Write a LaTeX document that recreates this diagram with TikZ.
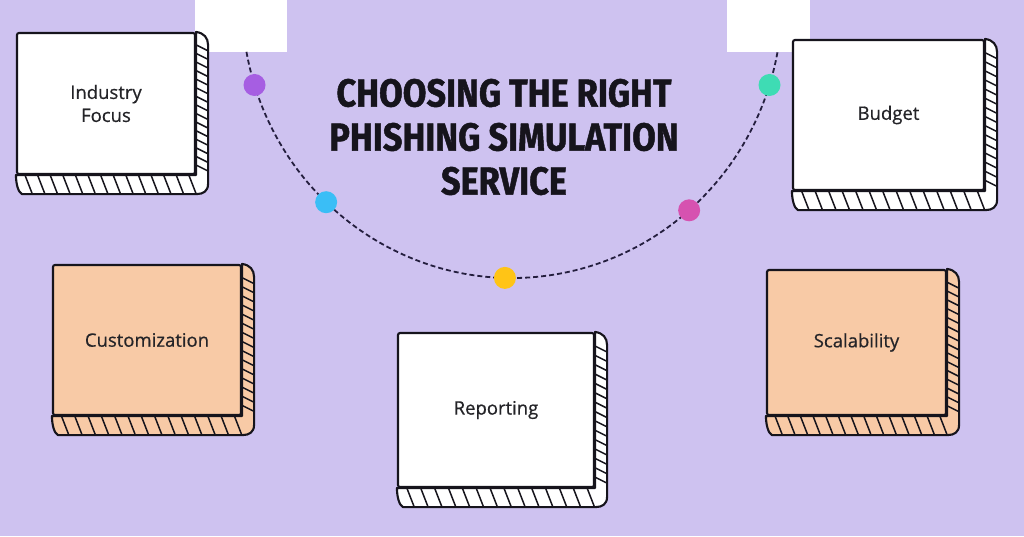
\documentclass[tikz,border=0pt]{standalone}
\usepackage{fontspec}
\setmainfont{Open Sans}
\newfontfamily\cardfont[FakeBold=0.6]{Open Sans}
\newfontfamily\titlefont[FakeStretch=0.88, FakeBold=1.2]{Fira Sans}
\usetikzlibrary{calc}

\definecolor{lavender}{RGB}{206,194,240}
\definecolor{peach}{RGB}{248,202,166}
\definecolor{ink}{RGB}{22,20,28}
\definecolor{inkgray}{RGB}{36,36,40}
\definecolor{trail}{RGB}{36,30,62}
\definecolor{dotpurple}{RGB}{166,94,226}
\definecolor{dotblue}{RGB}{58,190,246}
\definecolor{dotyellow}{RGB}{255,196,22}
\definecolor{dotpink}{RGB}{214,82,176}
\definecolor{dotteal}{RGB}{62,220,180}

% extruded hatched side of a card: #1 node, #2 fill
\newcommand{\cardside}[2]{%
  \draw[edge, fill=#2]
    (#1.north east) .. controls ($(#1.north east)+(8,1)$) and ($(#1.north east)+(12,6)$) .. ($(#1.north east)+(12,13)$)
    -- ($(#1.south east)+(12,9)$)
    .. controls ($(#1.south east)+(12,16)$) and ($(#1.south east)+(7,19)$) .. ($(#1.south east)+(1,19)$)
    -- ($(#1.south west)+(6,19)$)
    .. controls ($(#1.south west)+(2,17)$) and ($(#1.south west)+(0,8)$) .. (#1.south west)
    -- (#1.south east) -- cycle;
  \foreach \t in {0.09,0.15,...,0.97}
    \draw[hatch] ($(#1.north east)!\t!(#1.south east)$) -- ++(12,6);
  \foreach \t in {0.05,0.12,...,0.98}
    \draw[hatch] ($(#1.south west)!\t!(#1.south east)$) -- ++(7,18);
}

\begin{document}
\begin{tikzpicture}[
    x=1pt, y=-1pt,
    font=\cardfont\fontsize{18.5}{23}\selectfont, text=inkgray,
    card/.style={draw=ink, line width=2.1pt, fill=white, rounded corners=2pt, align=center, inner sep=0pt},
    edge/.style={draw=ink, line width=2.1pt, line join=round},
    hatch/.style={draw=ink, line width=1.5pt},
    dot/.style={circle, inner sep=0pt, minimum size=22pt},
    patch/.style={fill=white},
]
\useasboundingbox (0,0) rectangle (1024,536);
\fill[lavender] (0,0) rectangle (1024,536);

% white patches at the top edge
\fill[patch] (195,0) rectangle (287,52);
\fill[patch] (727,0) rectangle (810,52);

% dashed trail
\coordinate (hub) at (512,2);
\draw[trail, line width=1.8pt, dash pattern=on 5pt off 3pt]
  ($(hub)+(169.6:270 and 276)$) arc[start angle=169.6, end angle=10.4, x radius=270, y radius=276];
\node[dot, fill=dotpurple] (d1) at ($(hub)+(162.5:270 and 276)$) {};
\node[dot, fill=dotblue]   (d2) at ($(hub)+(133.5:270 and 276)$) {};
\node[dot, fill=dotyellow] (d3) at ($(hub)+(91.5:270 and 276)$) {};
\node[dot, fill=dotpink]   (d4) at ($(hub)+(49:270 and 276)$) {};
\node[dot, fill=dotteal]   (d5) at ($(hub)+(17.5:270 and 276)$) {};

\node[text=ink, align=center, font=\titlefont\bfseries\fontsize{39}{44}\selectfont] (title) at (504,137)
  {CHOOSING THE RIGHT\\PHISHING SIMULATION\\SERVICE};

% cards
\node[card, minimum width=178pt, minimum height=141pt] (ind) at (106,103.5) {Industry\\Focus};
\cardside{ind}{white}
\node[card, minimum width=191pt, minimum height=150pt] (bud) at (888.5,115) {Budget};
\cardside{bud}{white}
\node[card, fill=peach, minimum width=188pt, minimum height=150pt] (cust) at (147,340) {Customization};
\cardside{cust}{peach}
\node[card, minimum width=196pt, minimum height=154pt] (rep) at (496,410) {Reporting};
\cardside{rep}{white}
\node[card, fill=peach, minimum width=179pt, minimum height=145pt] (scal) at (856.5,342.5) {Scalability};
\cardside{scal}{peach}
\end{tikzpicture}
\end{document}
